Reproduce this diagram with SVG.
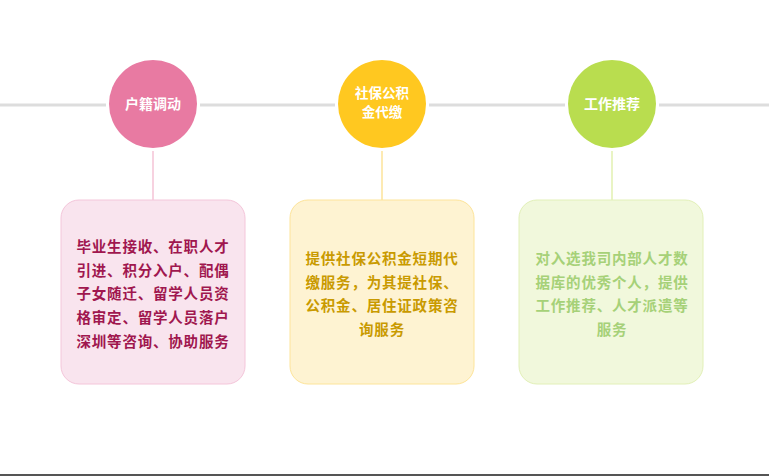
<svg xmlns="http://www.w3.org/2000/svg" width="769" height="476" viewBox="0 0 769 476">
<style>
text{font-family:"Noto Sans CJK SC","Noto Sans",sans-serif;font-weight:bold;text-anchor:middle}
.t{font-size:14px;fill:#fff}
.b{font-size:14.5px;letter-spacing:0.8px}
</style>
<rect width="769" height="476" fill="#fff"/>
<g id="connectors">
<g stroke="#dddddd" stroke-width="3">
<line x1="0" y1="105" x2="106" y2="105"/>
<line x1="200" y1="105" x2="335" y2="105"/>
<line x1="429" y1="105" x2="565" y2="105"/>
<line x1="659" y1="105" x2="769" y2="105"/>
</g>
<line x1="153" y1="151" x2="153" y2="201" stroke="#f4c3d6" stroke-width="1.5"/>
<line x1="382" y1="151" x2="382" y2="201" stroke="#fde39a" stroke-width="1.5"/>
<line x1="612" y1="151" x2="612" y2="201" stroke="#e2f0b0" stroke-width="1.5"/>
</g>
<g id="n1">
<circle cx="153" cy="104" r="44" fill="#e87aa2"/>
<text class="t" x="153" y="109">户籍调动</text>
</g>
<g id="n2">
<circle cx="382" cy="104" r="44" fill="#ffc820"/>
<text class="t" x="382" y="98" style="font-size:13.5px">社保公积</text>
<text class="t" x="382" y="117" style="font-size:13.5px">金代缴</text>
</g>
<g id="n3">
<circle cx="612" cy="104" r="44" fill="#b9dd4f"/>
<text class="t" x="612" y="109">工作推荐</text>
</g>
<g id="box1">
<rect x="61" y="200" width="184" height="184" rx="18" fill="#f9e4ee" stroke="#f4c6da"/>
<g class="b" fill="#a0174f">
<text x="153" y="252">毕业生接收、在职人才</text>
<text x="153" y="276">引进、积分入户、配偶</text>
<text x="153" y="299">子女随迁、留学人员资</text>
<text x="153" y="323">格审定、留学人员落户</text>
<text x="153" y="347">深圳等咨询、协助服务</text>
</g>
</g>
<g id="box2">
<rect x="290" y="200" width="184" height="184" rx="18" fill="#fef3d2" stroke="#fde49a"/>
<g class="b" fill="#c99a00">
<text x="382" y="264">提供社保公积金短期代</text>
<text x="382" y="288">缴服务，为其提社保、</text>
<text x="382" y="311">公积金、居住证政策咨</text>
<text x="382" y="335">询服务</text>
</g>
</g>
<g id="box3">
<rect x="519" y="200" width="184" height="184" rx="18" fill="#f1f8dc" stroke="#e2f0b8"/>
<g class="b" fill="#a6d178">
<text x="612" y="264">对入选我司内部人才数</text>
<text x="612" y="288">据库的优秀个人，提供</text>
<text x="612" y="311">工作推荐、人才派遣等</text>
<text x="612" y="335">服务</text>
</g>
</g>
<rect x="0" y="474" width="769" height="2" fill="#555"/>
</svg>
